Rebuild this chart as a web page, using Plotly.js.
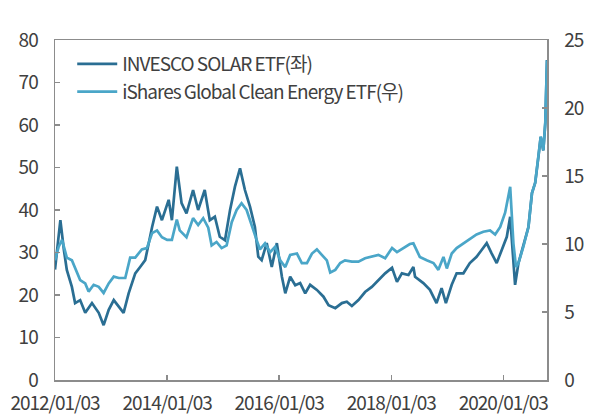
<!DOCTYPE html>
<html>
<head>
<meta charset="utf-8">
<script src="https://cdn.plot.ly/plotly-3.0.1.min.js"></script>
<style>
html, body { margin: 0; padding: 0; background: #fff; }
#chart { width: 591px; height: 414px; }
.xtick text, .ytick text, .y2tick text, .legendtext { letter-spacing: -1px; }
</style>
</head>
<body>
<div id="chart"></div>
<script>
// INVESCO SOLAR ETF (left axis)
const solarDates = [
'2012-01-03','2012-02-07','2012-03-01','2012-03-20','2012-04-22','2012-05-13','2012-06-15','2012-07-18','2012-08-31','2012-10-14',
'2012-11-15','2012-12-18','2013-01-20','2013-02-22','2013-03-25','2013-04-27','2013-06-09','2013-07-11','2013-08-13','2013-09-27',
'2013-10-29','2013-11-30','2014-01-13','2014-02-03','2014-03-07','2014-04-07','2014-05-09','2014-06-21','2014-07-24','2014-09-05',
'2014-10-08','2014-11-10','2014-12-12','2015-01-15','2015-02-17','2015-03-21','2015-04-23','2015-05-25','2015-06-27','2015-07-29',
'2015-08-20','2015-09-11','2015-10-14','2015-11-16','2015-12-19','2016-01-21','2016-02-12','2016-03-15','2016-04-17','2016-05-19',
'2016-06-21','2016-07-23','2016-09-05','2016-10-18','2016-11-20','2017-01-03','2017-02-15','2017-03-19','2017-04-21','2017-06-03',
'2017-07-16','2017-08-29','2017-10-11','2017-11-24','2018-01-08','2018-02-09','2018-03-13','2018-04-25','2018-05-27','2018-06-07',
'2018-07-31','2018-09-12','2018-10-25','2018-11-27','2018-12-25','2019-02-01','2019-03-05','2019-04-18','2019-05-30','2019-07-13',
'2019-08-15','2019-09-17','2019-10-19','2019-11-21','2019-12-24','2020-01-26','2020-02-17','2020-02-28','2020-03-20','2020-04-11',
'2020-05-13','2020-06-15','2020-07-08','2020-07-29','2020-08-19','2020-09-03','2020-09-20','2020-10-03','2020-10-14'
];
const solarValues = [
26.0,37.6,30.6,25.9,21.9,18.1,18.8,15.8,18.1,15.8,
12.9,16.5,18.8,17.2,15.8,20.4,25.1,26.6,28.2,36.0,
40.8,37.6,42.4,37.6,50.2,41.6,39.2,44.7,40.0,44.7,
37.6,38.4,33.7,32.9,40.0,45.5,49.8,44.7,40.8,36.0,
29.0,28.2,32.2,26.6,32.2,24.3,20.4,24.3,22.3,22.8,
20.4,22.4,21.2,19.6,17.6,16.9,18.1,18.4,17.4,18.8,
20.7,21.9,23.5,25.1,26.4,23.1,25.1,24.7,26.6,24.3,
22.8,21.2,18.1,21.6,18.1,22.4,25.1,25.1,27.5,29.0,
30.6,32.2,29.8,27.5,30.6,33.7,38.4,33.0,22.4,27.5,
31.4,36.0,44.0,46.4,52.5,57.2,54.0,60.5,75.3
];

// iShares Global Clean Energy ETF (right axis)
const cleanDates = [
'2012-01-03','2012-01-27','2012-02-18','2012-03-20','2012-04-22','2012-05-24','2012-06-15','2012-07-18','2012-08-09','2012-09-11',
'2012-10-14','2012-11-15','2012-12-18','2013-01-20','2013-02-22','2013-04-05','2013-05-07','2013-06-09','2013-07-22','2013-08-24',
'2013-09-27','2013-10-29','2013-11-30','2014-01-03','2014-02-03','2014-03-07','2014-03-26','2014-05-09','2014-06-21','2014-07-24',
'2014-08-26','2014-09-28','2014-10-20','2014-11-21','2014-12-24','2015-01-26','2015-02-28','2015-04-01','2015-05-03','2015-06-05',
'2015-07-08','2015-08-09','2015-08-31','2015-10-03','2015-11-05','2015-12-08','2016-01-10','2016-02-12','2016-03-15','2016-04-28',
'2016-05-30','2016-07-02','2016-08-04','2016-09-05','2016-10-07','2016-11-09','2016-12-01','2017-01-03','2017-02-04','2017-03-07',
'2017-04-21','2017-06-03','2017-07-16','2017-08-29','2017-10-11','2017-11-24','2018-01-08','2018-02-09','2018-03-23','2018-05-04',
'2018-05-27','2018-06-14','2018-07-08','2018-08-22','2018-10-05','2018-11-06','2018-12-09','2018-12-31','2019-02-01','2019-03-05',
'2019-04-18','2019-05-30','2019-07-13','2019-08-26','2019-10-09','2019-11-11','2019-12-14','2020-01-15','2020-02-17','2020-03-09',
'2020-03-26','2020-04-11','2020-05-13','2020-06-15','2020-07-08','2020-07-29','2020-08-19','2020-09-03','2020-09-20','2020-10-03',
'2020-10-14'
];
const cleanValues = [
8.8,9.8,10.3,9.0,8.8,7.9,7.35,7.1,6.5,7.0,
6.85,6.4,7.1,7.6,7.5,7.5,9.0,9.0,9.6,9.7,
10.8,11.0,10.5,10.3,10.3,11.8,11.0,10.5,11.9,11.4,
11.9,11.2,9.9,10.15,9.7,9.9,11.6,12.5,13.0,12.5,
11.3,10.3,9.6,10.05,9.4,9.8,8.8,8.3,9.2,9.3,
8.6,8.6,9.3,9.6,9.2,8.8,7.9,8.1,8.6,8.8,
8.7,8.7,8.95,9.05,9.2,8.95,9.7,9.4,9.7,10.0,
10.05,9.6,9.05,8.8,8.6,8.1,9.05,8.2,9.3,9.7,
10.05,10.4,10.7,10.9,11.0,10.7,11.25,12.3,14.2,10.05,
8.3,8.6,9.8,11.25,13.75,14.5,16.4,17.9,16.9,18.9,
23.5
];

const seriesNames = ['INVESCO SOLAR ETF(좌)', 'iShares Global Clean Energy ETF(우)'];
const xTickVals = ['2012-01-03','2014-01-03','2016-01-03','2018-01-03','2020-01-03'];
const xTickText = ['2012/01/03','2014/01/03','2016/01/03','2018/01/03','2020/01/03'];
const yLeftTicks = [0,10,20,30,40,50,60,70,80];
const yRightTicks = [0,5,10,15,20,25];

const darkColor = '#2a6e93';
const lightColor = '#4aa6c8';
const textColor = '#404040';
const axisColor = '#8c8c8c';
const fontFamily = '"Noto Sans CJK KR", "Noto Sans", sans-serif';

const traces = [
  { x: cleanDates, y: cleanValues, name: seriesNames[1], type: 'scatter', mode: 'lines',
    yaxis: 'y2', line: { color: lightColor, width: 2.7 } },
  { x: solarDates, y: solarValues, name: seriesNames[0], type: 'scatter', mode: 'lines',
    yaxis: 'y', line: { color: darkColor, width: 2.7 } }
];

const layout = {
  width: 591, height: 414,
  margin: { l: 55, r: 44, t: 40, b: 34 },
  paper_bgcolor: '#fff', plot_bgcolor: '#fff',
  font: { family: fontFamily, size: 19, color: textColor },
  showlegend: true,
  legend: {
    x: 0.035, y: 0.985, xanchor: 'left', yanchor: 'top',
    traceorder: 'reversed', bgcolor: 'rgba(0,0,0,0)',
    font: { family: fontFamily, size: 19, color: textColor },
    itemwidth: 40
  },
  xaxis: {
    type: 'date', range: ['2012-01-03', '2020-10-14'],
    tickmode: 'array', tickvals: xTickVals, ticktext: xTickText,
    ticks: 'inside', ticklen: 5, tickcolor: axisColor, tickwidth: 1.5,
    showline: true, linecolor: axisColor, linewidth: 1.5, mirror: true,
    showgrid: false, zeroline: false,
    ticklabelstandoff: 6,
    tickfont: { family: fontFamily, size: 19, color: textColor }
  },
  yaxis: {
    range: [0, 80], tickmode: 'array', tickvals: yLeftTicks,
    ticks: 'inside', ticklen: 5, tickcolor: axisColor, tickwidth: 1.5,
    showline: true, linecolor: axisColor, linewidth: 1.5,
    showgrid: false, zeroline: false,
    ticklabelstandoff: 12,
    tickfont: { family: fontFamily, size: 19, color: textColor }
  },
  yaxis2: {
    range: [0, 25], tickmode: 'array', tickvals: yRightTicks,
    overlaying: 'y', side: 'right',
    ticks: 'inside', ticklen: 5, tickcolor: axisColor, tickwidth: 1.5,
    showline: true, linecolor: axisColor, linewidth: 1.5,
    showgrid: false, zeroline: false,
    ticklabelstandoff: 12,
    tickfont: { family: fontFamily, size: 19, color: textColor }
  }
};

Plotly.newPlot('chart', traces, layout, { staticPlot: true, displayModeBar: false });
</script>
</body>
</html>
